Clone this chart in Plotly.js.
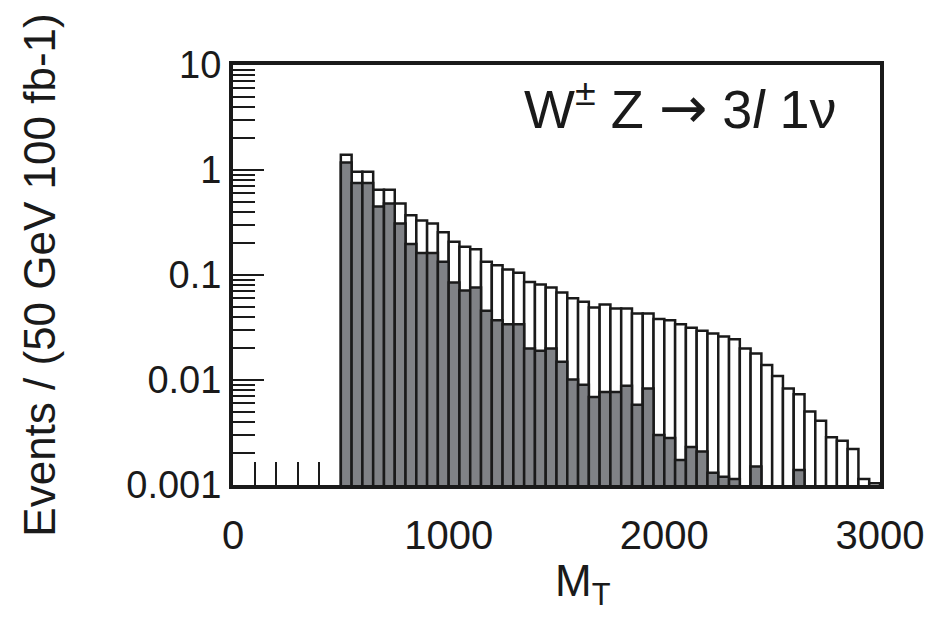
<!DOCTYPE html>
<html>
<head>
<meta charset="utf-8">
<script src="https://cdn.plot.ly/plotly-3.0.1.min.js"></script>
<style>html,body{margin:0;padding:0;background:#fff;}</style>
</head>
<body>
<div id="chart" style="width:937px;height:621px;"></div>
<script>
// Bin centres (50 GeV bins, 500-3000 GeV)
const binCenters = [525,575,625,675,725,775,825,875,925,975,
  1025,1075,1125,1175,1225,1275,1325,1375,1425,1475,
  1525,1575,1625,1675,1725,1775,1825,1875,1925,1975,
  2025,2075,2125,2175,2225,2275,2325,2375,2425,2475,
  2525,2575,2625,2675,2725,2775,2825,2875,2925,2975];

// Total (open histogram)
const totalEvents = [1.40,0.96,0.96,0.65,0.65,0.48,0.37,0.33,0.31,0.255,
  0.207,0.186,0.176,0.134,0.124,0.113,0.105,0.086,0.081,0.076,
  0.068,0.060,0.0557,0.049,0.0525,0.048,0.048,0.043,0.043,0.038,
  0.037,0.034,0.0315,0.0295,0.0278,0.0259,0.0244,0.020,0.0179,0.0139,
  0.0109,0.0083,0.0073,0.0050,0.0041,0.00285,0.00264,0.0022,0.00114,0.00104];

// Filled (grey) histogram
const filledEvents = [1.18,0.75,0.75,0.45,0.48,0.31,0.197,0.162,0.162,0.134,
  0.085,0.071,0.076,0.0457,0.037,0.034,0.034,0.020,0.019,0.020,
  0.0149,0.0101,0.0090,0.0069,0.0077,0.0077,0.0088,0.0058,0.0083,0.0030,
  0.0028,0.00173,0.0023,0.00208,0.00131,0.0012,0.00114,null,0.0015,null,
  null,null,0.00139,null,null,null,null,null,null,null];

const xTickVals = [0,1000,2000,3000];
const xTickText = ['0','1000','2000','3000'];
const xMinorVals = [100,200,300,400,500,600,700,800,900,1100,1200,1300,1400,1500,1600,1700,1800,1900,
  2100,2200,2300,2400,2500,2600,2700,2800,2900];
const yTickVals = [0.001,0.01,0.1,1,10];
const yTickText = ['0.001','0.01','0.1','1','10'];
const yMinorVals = [0.002,0.003,0.004,0.005,0.006,0.007,0.008,0.009,
  0.02,0.03,0.04,0.05,0.06,0.07,0.08,0.09,
  0.2,0.3,0.4,0.5,0.6,0.7,0.8,0.9,
  2,3,4,5,6,7,8,9];

const ink = '#1a1a1a';
const fontFam = 'Liberation Sans, Arial, Helvetica, sans-serif';

const traces = [
  {type:'bar', x:binCenters, y:totalEvents, width:50,
   marker:{color:'#ffffff', line:{color:ink, width:2.5}}, hoverinfo:'skip'},
  {type:'bar', x:binCenters, y:filledEvents, width:50,
   marker:{color:'#808286', line:{color:ink, width:2.5}}, hoverinfo:'skip'}
];

const layout = {
  width:937, height:621,
  margin:{l:233, r:57, t:65, b:136},
  paper_bgcolor:'#ffffff', plot_bgcolor:'#ffffff',
  showlegend:false, barmode:'overlay', bargap:0,
  font:{family:fontFam, size:40, color:ink},
  xaxis:{
    range:[0,3000], showline:true, linewidth:4, linecolor:ink, mirror:true,
    showgrid:false, zeroline:false, layer:'below traces',
    tickmode:'array', tickvals:xTickVals, ticktext:xTickText,
    ticks:'inside', ticklen:31, tickwidth:2, tickcolor:ink,
    ticklabelstandoff:12,
    tickfont:{family:fontFam, size:40, color:ink},
    minor:{tickmode:'array', tickvals:xMinorVals, ticks:'inside', ticklen:23, tickwidth:2, tickcolor:ink, showgrid:false}
  },
  yaxis:{
    type:'log', range:[-3,1], showline:true, linewidth:4, linecolor:ink, mirror:true,
    showgrid:false, zeroline:false, layer:'below traces',
    tickmode:'array', tickvals:yTickVals, ticktext:yTickText,
    ticks:'inside', ticklen:31, tickwidth:2, tickcolor:ink,
    ticklabelstandoff:0,
    tickfont:{family:fontFam, size:38, color:ink},
    minor:{tickmode:'array', tickvals:yMinorVals, ticks:'inside', ticklen:22, tickwidth:2, tickcolor:ink, showgrid:false},
    title:{text:'Events / (50 GeV 100 fb-1)', font:{family:fontFam, size:44, color:ink}, standoff:58}
  },
  annotations:[
    {xref:'paper', yref:'paper', x:0.4467, y:0.812, xanchor:'left', yanchor:'bottom',
     text:'W<sup>±</sup> Z <span style="font-family:DejaVu Sans;font-size:58px">→</span> 3<i>l</i> 1ν', showarrow:false,
     font:{family:fontFam, size:54, color:ink}},
    {xref:'paper', yref:'paper', x:0.4946, y:-0.165, xanchor:'left', yanchor:'top',
     text:'M<sub>T</sub>', showarrow:false,
     font:{family:fontFam, size:44, color:ink}}
  ]
};

Plotly.newPlot('chart', traces, layout, {displayModeBar:false, staticPlot:true});
</script>
</body>
</html>
